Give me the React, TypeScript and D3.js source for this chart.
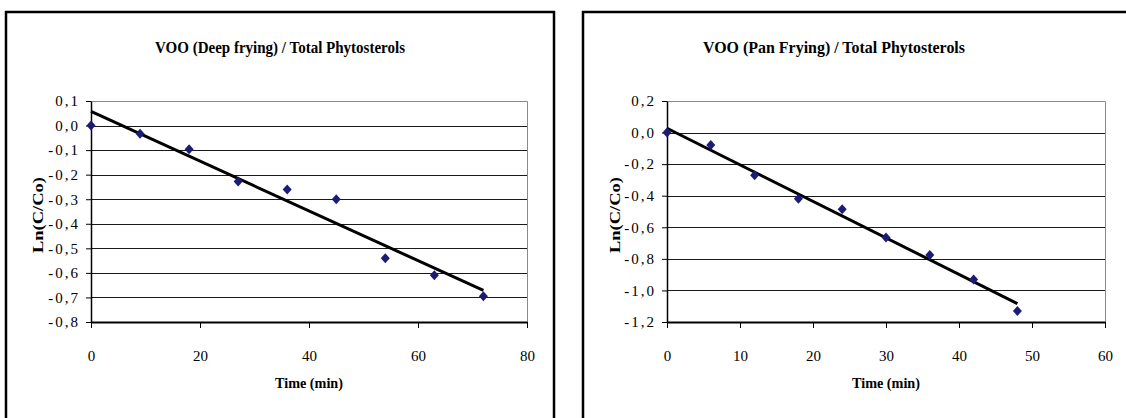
import React, { useRef, useEffect } from "react";
import * as d3 from "d3";

// Deep frying panel
const deepTimes = [0, 9, 18, 27, 36, 45, 54, 63, 72];
const deepLn = [0.0, -0.033, -0.097, -0.228, -0.26, -0.3, -0.54, -0.61, -0.695];
const deepXTicks = [0, 20, 40, 60, 80];
const deepYTicks = [0.1, 0.0, -0.1, -0.2, -0.3, -0.4, -0.5, -0.6, -0.7, -0.8];

// Pan frying panel
const panTimes = [0, 6, 12, 18, 24, 30, 36, 42, 48];
const panLn = [0.0, -0.078, -0.27, -0.42, -0.485, -0.665, -0.775, -0.93, -1.13];
const panXTicks = [0, 10, 20, 30, 40, 50, 60];
const panYTicks = [0.2, 0.0, -0.2, -0.4, -0.6, -0.8, -1.0, -1.2];

const titles = [
  "VOO (Deep frying) / Total Phytosterols",
  "VOO (Pan Frying) / Total Phytosterols",
];

const FONT = "Liberation Serif";

const fmt = (v: number) => d3.format(".1f")(v).replace(".", ",").replace("−", "-");

// least squares fit, like Excel's linear trendline
function fit(xs: number[], ys: number[]) {
  const mx = d3.mean(xs)!;
  const my = d3.mean(ys)!;
  let sxy = 0;
  let sxx = 0;
  xs.forEach((x, i) => {
    sxy += (x - mx) * (ys[i] - my);
    sxx += (x - mx) * (x - mx);
  });
  const slope = sxy / sxx;
  return { slope, intercept: my - slope * mx };
}

const App = () => {
  const svgRef = useRef<SVGSVGElement>(null);

  useEffect(() => {
    const svg = d3.select(svgRef.current);
    svg.selectAll("*").remove();

    const panels = [
      {
        frame: { x: 6, y: 12, w: 548 },
        plot: { l: 91, r: 527, t: 101, b: 322 },
        times: deepTimes,
        values: deepLn,
        xTicks: deepXTicks,
        yTicks: deepYTicks,
        title: titles[0],
        titleX: 280,
        titleLen: 250,
        yTitleX: 38,
      },
      {
        frame: { x: 583, y: 12, w: 600 },
        plot: { l: 667, r: 1105, t: 101, b: 322 },
        times: panTimes,
        values: panLn,
        xTicks: panXTicks,
        yTicks: panYTicks,
        title: titles[1],
        titleX: 834,
        titleLen: 262,
        yTitleX: 615,
      },
    ];

    panels.forEach((p) => {
      const g = svg.append("g").style("font-family", FONT);

      // chart frame
      g.append("rect")
        .attr("x", p.frame.x)
        .attr("y", p.frame.y)
        .attr("width", p.frame.w)
        .attr("height", 460)
        .attr("fill", "#fff")
        .attr("stroke", "#000")
        .attr("stroke-width", 2.5);

      const x = d3
        .scaleLinear()
        .domain(d3.extent(p.xTicks) as [number, number])
        .range([p.plot.l, p.plot.r]);
      const y = d3
        .scaleLinear()
        .domain(d3.extent(p.yTicks) as [number, number])
        .range([p.plot.b, p.plot.t]);

      // gridlines
      p.yTicks.slice(1, -1).forEach((t) => {
        g.append("line")
          .attr("x1", p.plot.l)
          .attr("x2", p.plot.r)
          .attr("y1", Math.round(y(t)) + 0.5)
          .attr("y2", Math.round(y(t)) + 0.5)
          .attr("stroke", "#1a1a1a")
          .attr("stroke-width", 1);
      });

      // plot border (top, right)
      g.append("path")
        .attr("d", `M${p.plot.l},${p.plot.t + 0.5}H${p.plot.r + 0.5}V${p.plot.b}`)
        .attr("fill", "none")
        .attr("stroke", "#8a8a8a")
        .attr("stroke-width", 1);

      // axes
      const xAxis = g
        .append("g")
        .attr("transform", `translate(0,${p.plot.b})`)
        .call(
          d3
            .axisBottom(x)
            .tickValues(p.xTicks)
            .tickSizeInner(6)
            .tickSizeOuter(0)
            .tickPadding(22)
            .tickFormat((d) => String(d))
        );
      xAxis.attr("font-family", null);
      xAxis.select(".domain").attr("stroke-width", 2);
      xAxis
        .selectAll("text")
        .style("font-family", FONT)
        .attr("font-size", 15)
        .attr("fill", "#000");

      const yAxis = g
        .append("g")
        .attr("transform", `translate(${p.plot.l},0)`)
        .call(
          d3
            .axisLeft(y)
            .tickValues(p.yTicks)
            .tickSizeInner(5)
            .tickSizeOuter(0)
            .tickPadding(6)
            .tickFormat((d) => fmt(d as number))
        );
      yAxis.attr("font-family", null);
      yAxis.select(".domain").attr("stroke-width", 1.5);
      yAxis
        .selectAll("text")
        .style("font-family", FONT)
        .attr("font-size", 15)
        .attr("letter-spacing", 2)
        .attr("fill", "#000");

      // trendline
      const { slope, intercept } = fit(p.times, p.values);
      const x0 = p.times[0];
      const x1 = p.times[p.times.length - 1];
      g.append("line")
        .attr("x1", x(x0))
        .attr("y1", y(intercept + slope * x0))
        .attr("x2", x(x1))
        .attr("y2", y(intercept + slope * x1))
        .attr("stroke", "#000")
        .attr("stroke-width", 3);

      // markers
      g.selectAll("path.pt")
        .data(p.times)
        .join("path")
        .attr("class", "pt")
        .attr("d", "M0,-5L4.5,0L0,5L-4.5,0Z")
        .attr("transform", (d, i) => `translate(${x(d)},${y(p.values[i])})`)
        .attr("fill", "#1c1c78");

      // titles
      g.append("text")
        .attr("x", p.titleX)
        .attr("y", 53)
        .attr("text-anchor", "middle")
        .style("font-family", FONT)
        .attr("font-weight", "bold")
        .attr("font-size", 16.5)
        .attr("textLength", p.titleLen)
        .attr("lengthAdjust", "spacingAndGlyphs")
        .text(p.title);

      g.append("text")
        .attr("x", (p.plot.l + p.plot.r) / 2)
        .attr("y", 388)
        .attr("text-anchor", "middle")
        .style("font-family", FONT)
        .attr("font-weight", "bold")
        .attr("font-size", 15)
        .attr("textLength", 68)
        .attr("lengthAdjust", "spacingAndGlyphs")
        .text("Time (min)");

      g.append("text")
        .attr("transform", `translate(${p.yTitleX + 5},215) rotate(-90)`)
        .attr("text-anchor", "middle")
        .style("font-family", FONT)
        .attr("font-weight", "bold")
        .attr("font-size", 15.5)
        .attr("textLength", 76)
        .attr("lengthAdjust", "spacingAndGlyphs")
        .text("Ln(C/Co)");
    });
  }, []);

  return (
    <svg
      ref={svgRef}
      width={1126}
      height={418}
      style={{ position: "absolute", left: 0, top: 0, background: "#fff" }}
    />
  );
};

export default App;
